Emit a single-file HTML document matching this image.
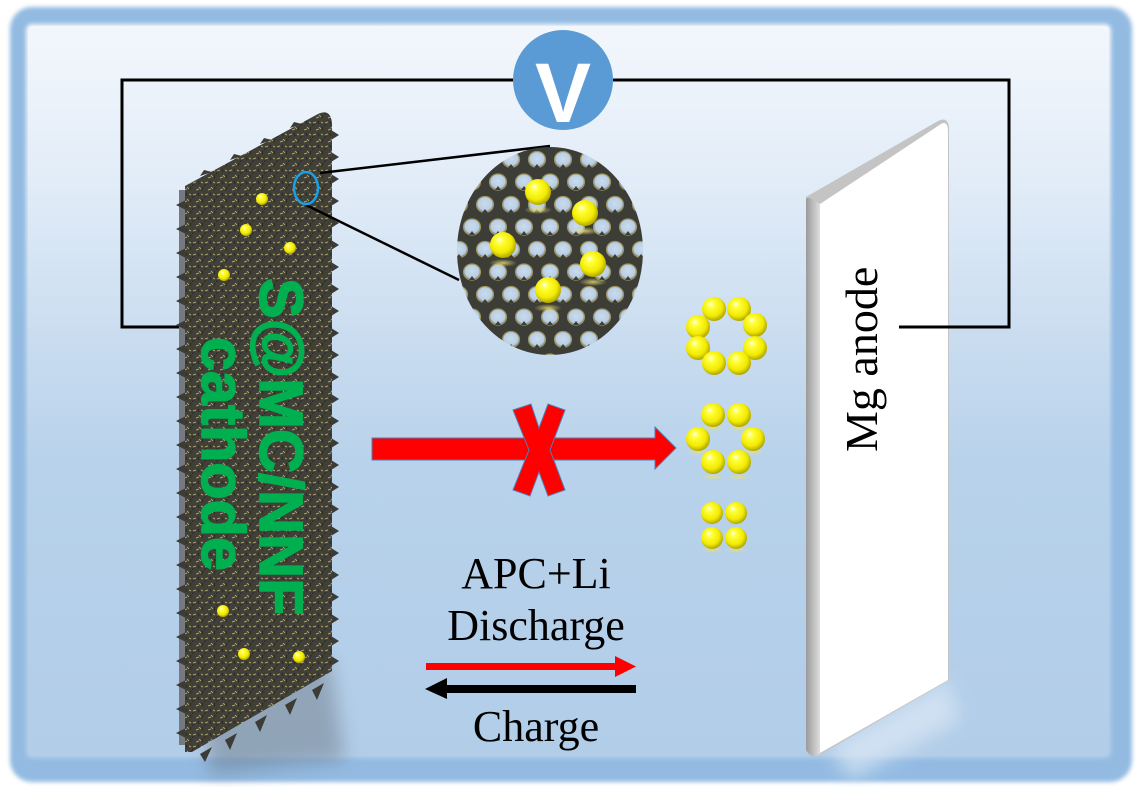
<!DOCTYPE html>
<html><head><meta charset="utf-8"><style>
html,body{margin:0;padding:0;background:#fff;}
svg{display:block;}
</style></head><body>
<svg width="1139" height="787" viewBox="0 0 1139 787" xmlns="http://www.w3.org/2000/svg">
<defs>
  <linearGradient id="bg" x1="0" y1="0" x2="0" y2="1">
    <stop offset="0" stop-color="#f3f7fc"/>
    <stop offset="0.2" stop-color="#e3edf8"/>
    <stop offset="0.45" stop-color="#c7dbef"/>
    <stop offset="0.6" stop-color="#b8d2eb"/>
    <stop offset="1" stop-color="#b2cde8"/>
  </linearGradient>
  <filter id="blur2" x="-5%" y="-5%" width="110%" height="110%"><feGaussianBlur stdDeviation="2"/></filter>
  <filter id="blur8" x="-50%" y="-50%" width="200%" height="200%"><feGaussianBlur stdDeviation="9"/></filter>
  <radialGradient id="sg" cx="0.45" cy="0.42" r="0.6" fx="0.35" fy="0.28">
    <stop offset="0" stop-color="#ffffe8"/>
    <stop offset="0.25" stop-color="#ffff3a"/>
    <stop offset="0.7" stop-color="#f2ea00"/>
    <stop offset="1" stop-color="#a89e00"/>
  </radialGradient>
  <radialGradient id="refl" cx="0.5" cy="0.5" r="0.5">
    <stop offset="0" stop-color="#e8e070" stop-opacity="0.8"/>
    <stop offset="1" stop-color="#e8e070" stop-opacity="0"/>
  </radialGradient>
  <radialGradient id="hole" cx="0.5" cy="0.45" r="0.55">
    <stop offset="0" stop-color="#cadcee"/>
    <stop offset="0.75" stop-color="#b9cde2"/>
    <stop offset="1" stop-color="#6d716c"/>
  </radialGradient>
  <pattern id="tex" width="12" height="12" patternUnits="userSpaceOnUse">
    <rect width="12" height="12" fill="#403f38"/>
    <path d="M1 3 l3 -1 M7 7 l2 2 M4 10 l3 -1 M9 2 l2 1" stroke="#aaa266" stroke-width="1"/>
    <path d="M0 6 l2 -2 M6 1 l1 3 M10 10 l1 -3" stroke="#2c2c28" stroke-width="1.2"/>
  </pattern>
  <pattern id="mesh" width="26" height="45" patternUnits="userSpaceOnUse" x="4" y="2">
    <rect width="26" height="45" fill="#3d3d37"/>
    <g fill="url(#hole)" stroke="#9c9460" stroke-width="1.2">
      <ellipse cx="0" cy="0" rx="8.5" ry="8"/>
      <ellipse cx="26" cy="0" rx="8.5" ry="8"/>
      <ellipse cx="13" cy="22.5" rx="8.5" ry="8"/>
      <ellipse cx="0" cy="45" rx="8.5" ry="8"/>
      <ellipse cx="26" cy="45" rx="8.5" ry="8"/>
    </g>
    <g fill="#3d3d37">
      <polygon points="13,27 10,31 16,31"/>
      <polygon points="0,4 -3,8 3,8"/>
      <polygon points="26,4 23,8 29,8"/>
      <polygon points="0,49 -3,53 3,53"/>
      <polygon points="26,49 23,53 29,53"/>
    </g>
  </pattern>
  <linearGradient id="strip" x1="0" y1="0" x2="1" y2="0">
    <stop offset="0" stop-color="#9a9a9a"/>
    <stop offset="1" stop-color="#dedede"/>
  </linearGradient>
  <clipPath id="mag"><ellipse cx="550" cy="251" rx="93" ry="104"/></clipPath>
</defs>

<!-- frame -->
<rect x="0" y="0" width="1139" height="787" fill="#ffffff"/>
<rect x="10" y="7" width="1122" height="775" rx="22" fill="#93bbe2" filter="url(#blur2)"/>
<rect x="26" y="24" width="1085" height="734" rx="6" fill="url(#bg)" filter="url(#blur2)"/>
<rect x="28" y="26" width="1081" height="730" rx="4" fill="url(#bg)"/>

<!-- wires -->
<path d="M187 327 H122 V80 H513 M613 80 H1009 V327 H899" fill="none" stroke="#000" stroke-width="3"/>

<!-- V meter -->
<circle cx="563" cy="80" r="50" fill="#5b9bd5"/>
<text x="563" y="122" font-family="Liberation Sans, sans-serif" font-weight="bold" font-size="84" fill="#fff" text-anchor="middle">V</text>

<!-- cathode shadow -->
<polygon points="200,690 330,660 345,760 210,775" fill="#5f6873" opacity="0.4" filter="url(#blur8)"/>
<!-- cathode left strip -->
<rect x="179" y="190" width="8" height="555" fill="#767a80"/>
<!-- cathode spikes -->
<g fill="#3c3b35">
  <polygon points="331,130 339,135 331,140"/><polygon points="331,152 339,157 331,162"/><polygon points="331,174 339,179 331,184"/><polygon points="331,196 339,201 331,206"/><polygon points="331,218 339,223 331,228"/><polygon points="331,240 339,245 331,250"/><polygon points="331,262 339,267 331,272"/><polygon points="331,284 339,289 331,294"/><polygon points="331,306 339,311 331,316"/><polygon points="331,328 339,333 331,338"/><polygon points="331,350 339,355 331,360"/><polygon points="331,372 339,377 331,382"/><polygon points="331,394 339,399 331,404"/><polygon points="331,416 339,421 331,426"/><polygon points="331,438 339,443 331,448"/><polygon points="331,460 339,465 331,470"/><polygon points="331,482 339,487 331,492"/><polygon points="331,504 339,509 331,514"/><polygon points="331,526 339,531 331,536"/><polygon points="331,548 339,553 331,558"/><polygon points="331,570 339,575 331,580"/><polygon points="331,592 339,597 331,602"/><polygon points="331,614 339,619 331,624"/><polygon points="331,636 339,641 331,646"/><polygon points="331,656 339,661 331,666"/>
  <polygon points="186,200 176,205 186,210"/><polygon points="186,224 176,229 186,234"/><polygon points="186,248 176,253 186,258"/><polygon points="186,272 176,277 186,282"/><polygon points="186,296 176,301 186,306"/><polygon points="186,320 176,325 186,330"/><polygon points="186,344 176,349 186,354"/><polygon points="186,368 176,373 186,378"/><polygon points="186,392 176,397 186,402"/><polygon points="186,416 176,421 186,426"/><polygon points="186,440 176,445 186,450"/><polygon points="186,464 176,469 186,474"/><polygon points="186,488 176,493 186,498"/><polygon points="186,512 176,517 186,522"/><polygon points="186,536 176,541 186,546"/><polygon points="186,560 176,565 186,570"/><polygon points="186,584 176,589 186,594"/><polygon points="186,608 176,613 186,618"/><polygon points="186,632 176,637 186,642"/><polygon points="186,656 176,661 186,666"/><polygon points="186,680 176,685 186,690"/><polygon points="186,704 176,709 186,714"/><polygon points="186,728 176,733 186,738"/>
  <polygon points="200,754 205,762 212,747"/><polygon points="225,740 230,750 237,733"/><polygon points="255,722 260,732 267,715"/><polygon points="285,705 290,715 297,698"/><polygon points="312,690 317,700 324,683"/>
  <polygon points="200,176 204,170 212,172"/><polygon points="230,160 234,154 242,156"/><polygon points="260,144 264,138 272,140"/><polygon points="290,128 294,122 302,124"/>
</g>
<!-- cathode face -->
<path d="M185 186 L318 114 Q331 108 332 124 L332 671 L192 752 L185 752 Z" fill="url(#tex)"/>

<!-- cathode dots -->
<g fill="url(#sg)">
  <circle cx="262" cy="199" r="6"/><circle cx="246" cy="230" r="6"/><circle cx="290" cy="248" r="6"/><circle cx="224" cy="275" r="6"/>
  <circle cx="223" cy="611" r="6"/><circle cx="244" cy="654" r="6"/><circle cx="299" cy="657" r="6"/>
</g>

<!-- cathode text -->
<text transform="translate(260,278) rotate(90)" font-family="Liberation Sans, sans-serif" font-weight="bold" font-size="61" fill="#00b050" stroke="#00b050" stroke-width="1.5">S@MC/NNF</text>
<text transform="translate(202,337) rotate(90)" font-family="Liberation Sans, sans-serif" font-weight="bold" font-size="61" fill="#00b050" stroke="#00b050" stroke-width="1.5">cathode</text>

<!-- blue ellipse & zoom lines -->
<line x1="320" y1="173" x2="550" y2="146" stroke="#000" stroke-width="2.5"/>
<line x1="306" y1="205" x2="459" y2="280" stroke="#000" stroke-width="2.5"/>
<ellipse cx="306" cy="188" rx="12" ry="16" fill="none" stroke="#1aa0e8" stroke-width="2.5"/>

<!-- magnified mesh -->
<g clip-path="url(#mag)">
  <rect x="450" y="140" width="200" height="220" fill="url(#mesh)"/>
</g>
<g fill="url(#refl)">
  <ellipse cx="538" cy="210" rx="14" ry="4"/><ellipse cx="585" cy="231" rx="14" ry="4"/><ellipse cx="503" cy="263" rx="14" ry="4"/><ellipse cx="593" cy="282" rx="14" ry="4"/><ellipse cx="548" cy="308" rx="14" ry="4"/>
</g>
<g fill="url(#sg)">
  <circle cx="538" cy="192" r="13"/><circle cx="585" cy="213" r="13"/><circle cx="503" cy="245" r="13"/><circle cx="593" cy="264" r="13"/><circle cx="548" cy="290" r="13"/>
</g>

<!-- big red arrow with X -->
<polygon points="372,438 655,438 655,427 676,448 655,469 655,460 372,460" fill="#ff0000" stroke="#4f7fb8" stroke-width="1"/>
<polygon points="513,410 531,404 539,428 548,404 565,410 550,450 565,490 548,496 539,472 530,496 513,490 529,450" fill="#ff0000" stroke="#4f7fb8" stroke-width="1"/>

<!-- sulfur clusters -->
<g fill="url(#refl)">
  <ellipse cx="713" cy="428" rx="12" ry="3"/><ellipse cx="739" cy="428" rx="12" ry="3"/><ellipse cx="698" cy="452" rx="12" ry="3"/><ellipse cx="753" cy="452" rx="12" ry="3"/><ellipse cx="713" cy="477" rx="12" ry="3"/><ellipse cx="739" cy="477" rx="12" ry="3"/>
  <ellipse cx="712" cy="550" rx="11" ry="3"/><ellipse cx="736" cy="550" rx="11" ry="3"/>
</g>
<g fill="url(#sg)">
  <circle cx="714" cy="309" r="12"/><circle cx="739" cy="309" r="12"/><circle cx="698" cy="327" r="12"/><circle cx="755" cy="325" r="12"/><circle cx="698" cy="348" r="12"/><circle cx="755" cy="348" r="12"/><circle cx="714" cy="363" r="12"/><circle cx="739" cy="363" r="12"/>
  <circle cx="713" cy="415" r="12"/><circle cx="739" cy="415" r="12"/><circle cx="698" cy="439" r="12"/><circle cx="753" cy="439" r="12"/><circle cx="713" cy="462" r="12"/><circle cx="739" cy="462" r="12"/>
  <circle cx="712" cy="513" r="11"/><circle cx="736" cy="513" r="11"/><circle cx="712" cy="538" r="11"/><circle cx="736" cy="538" r="11"/>
</g>

<!-- anode -->
<polygon points="830,745 948,680 960,720 850,780" fill="#dbe8f5" opacity="0.7" filter="url(#blur8)"/>
<path d="M806 197 L938 121 Q948 116 949 128 L949 680 L818 756 Q808 758 806 748 Z" fill="#c4c4c4"/>
<path d="M806 200 Q806 196 812 199 L820 204 L820 754 Q812 760 806 750 Z" fill="url(#strip)"/>
<path d="M820 204 L941 124 Q948 120 948 132 L948 680 L820 753 Z" fill="#ffffff"/>
<text transform="translate(877,452) rotate(-90)" font-family="Liberation Serif, serif" font-size="46" fill="#000">Mg anode</text>
<line x1="899" y1="327" x2="949" y2="327" stroke="#000" stroke-width="3"/>

<!-- labels -->
<g font-family="Liberation Serif, serif" font-size="44" fill="#000" text-anchor="middle">
  <text x="536" y="588">APC+Li</text>
  <text x="536" y="640">Discharge</text>
  <text x="536" y="741">Charge</text>
</g>
<!-- small arrows -->
<rect x="426" y="663" width="192" height="7" fill="#ff0000"/>
<polygon points="615,656 636,666.5 615,677" fill="#ff0000"/>
<rect x="445" y="685" width="191" height="8" fill="#000"/>
<polygon points="447,678 425,689 447,699" fill="#000"/>
</svg>
</body></html>
